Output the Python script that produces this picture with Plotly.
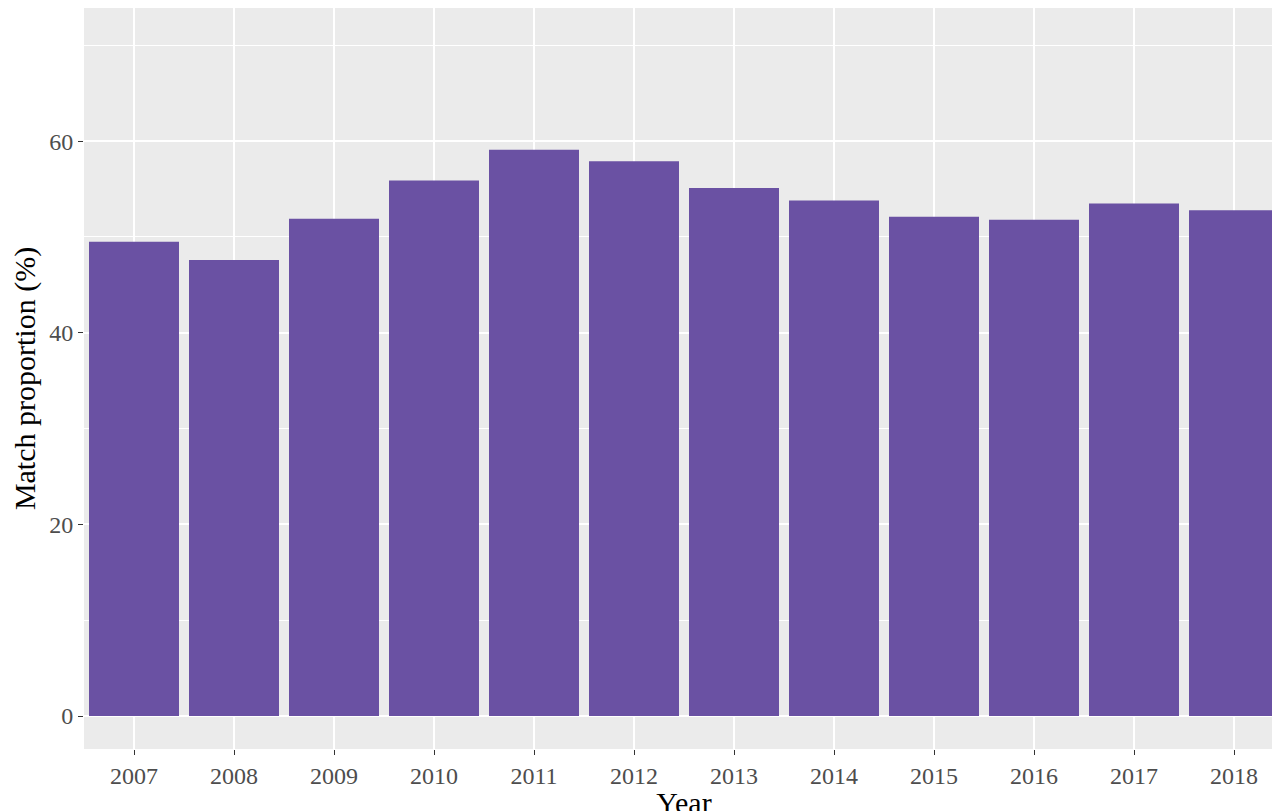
import plotly.graph_objects as go

years = ["2007", "2008", "2009", "2010", "2011", "2012",
         "2013", "2014", "2015", "2016", "2017", "2018"]
match_pct = [49.5, 47.6, 51.9, 55.9, 59.1, 57.9, 55.1, 53.8, 52.1, 51.8, 53.5, 52.8]

fig = go.Figure(go.Bar(x=years, y=match_pct, marker=dict(color="#6A51A3", line=dict(width=0))))

fig.update_layout(
    width=1280, height=811,
    margin=dict(l=76, r=4, t=0, b=70, autoexpand=False),
    plot_bgcolor="#EBEBEB", paper_bgcolor="white",
    bargap=0.1, showlegend=False,
    font=dict(family="Liberation Serif, Times New Roman, serif", size=24, color="black"),
)
fig.update_xaxes(
    automargin=False,
    title=dict(text="Year", font=dict(size=30), standoff=0),
    showgrid=True, gridcolor="white", gridwidth=1.5,
    ticks="outside", ticklen=5, tickcolor="#333", tickfont=dict(size=24, color="#4D4D4D"),
)
fig.update_yaxes(
    automargin=False,
    title=dict(text="Match proportion (%)", font=dict(size=30), standoff=6),
    range=[-3.44, 73.9], tickvals=[0, 20, 40, 60],
    showgrid=True, gridcolor="white", gridwidth=1.5, zeroline=False,
    minor=dict(tickvals=[10, 30, 50, 70], showgrid=True, gridcolor="white", gridwidth=0.6),
    ticks="outside", ticklen=5, tickcolor="#333", tickfont=dict(size=24, color="#4D4D4D"),
)

fig.write_html("out.html")
